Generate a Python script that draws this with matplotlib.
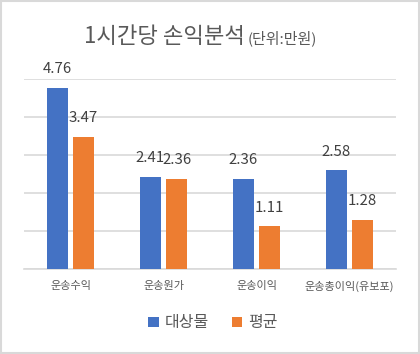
import matplotlib
matplotlib.use("Agg")
import matplotlib.pyplot as plt
from matplotlib.patches import Rectangle
import numpy as np

plt.rcParams['font.family'] = ['Noto Sans CJK KR', 'DejaVu Sans']

categories = ['운송수익', '운송원가', '운송이익', '운송총이익(유보포)']
series_names = ['대상물', '평균']
target = [4.76, 2.41, 2.36, 2.58]
average = [3.47, 2.36, 1.11, 1.28]
colors = ['#4472C4', '#ED7D31']

W, H = 420, 354
fig = plt.figure(figsize=(W / 100, H / 100), dpi=100)
fig.patch.set_facecolor('white')

ax = fig.add_axes([24 / W, 1 - 268.5 / H, 372 / W, 190 / H])
x = np.arange(len(categories))
bw = 0.226
off = 0.14
b1 = ax.bar(x - off, target, bw, color=colors[0], label=series_names[0], zorder=3)
b2 = ax.bar(x + off, average, bw, color=colors[1], label=series_names[1], zorder=3)

for bars, vals in ((b1, target), (b2, average)):
    for rect, v in zip(bars, vals):
        ax.annotate(f'{v:.2f}', (rect.get_x() + rect.get_width() / 2, v),
                    xytext=(0, 10.5), textcoords='offset points',
                    ha='center', va='baseline', fontsize=10.8, color='#404040', zorder=4)

ax.set_xlim(-0.5, len(categories) - 0.5)
ax.set_ylim(0, 5)
ax.set_yticks(np.arange(0, 6, 1))
ax.yaxis.grid(True, color='#d9d9d9', linewidth=1.2, zorder=0)
ax.tick_params(axis='y', left=False, labelleft=False)
ax.tick_params(axis='x', length=0, pad=9, labelsize=8, labelcolor='#595959')
ax.set_xticks(x)
ax.set_xticklabels(categories)
for s in ['top', 'right', 'left']:
    ax.spines[s].set_visible(False)
ax.spines['bottom'].set_color('#d9d9d9')
ax.spines['bottom'].set_linewidth(1.2)

fig.text(245 / W, 1 - 43 / H, '1시간당 손익분석', ha='right', va='baseline',
         fontsize=16, color='#595959', fontweight='light')
fig.text(248 / W, 1 - 43 / H, '(단위:만원)', ha='left', va='baseline',
         fontsize=10.8, color='#595959', fontweight='light')

leg = fig.legend(handles=[b1, b2], labels=series_names, loc='center',
                 bbox_to_anchor=(213 / W, 1 - 323 / H), ncol=2, frameon=False,
                 fontsize=11.5, labelcolor='#595959', handlelength=0.65, handleheight=0.65,
                 handletextpad=0.4, columnspacing=1.4)

fig.add_artist(Rectangle((0.002, 0.002), 0.996, 0.996, transform=fig.transFigure,
                         fill=False, edgecolor='#d9d9d9', linewidth=1.5))

fig.savefig('out.png', dpi=100, facecolor='white')
